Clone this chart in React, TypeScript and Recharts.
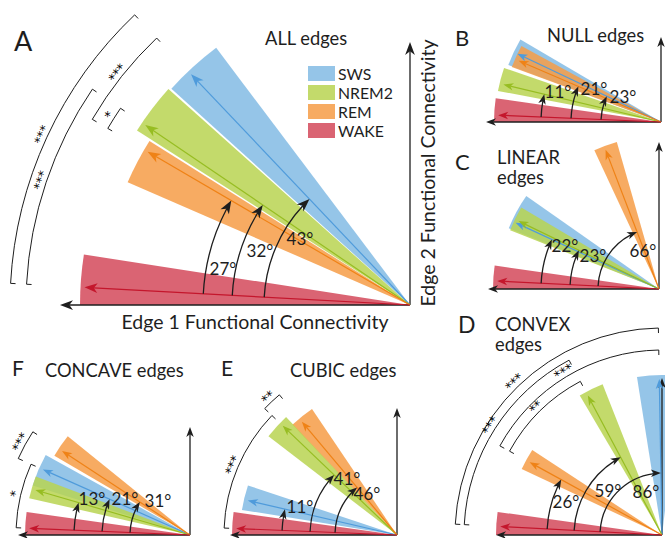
import React from 'react';
import { PieChart, Pie, Cell } from 'recharts';

const STAGES = ['SWS', 'NREM2', 'REM', 'WAKE'];

// angles are degrees above the Edge 1 axis, magnitude is relative arrow length
// A – ALL edges
const allMean = [46.5, 34.2, 30.3, 3.1];
const allLow = [42.2, 32.6, 23.5, 0];
const allHigh = [53, 41.8, 32.2, 8.8];
const allMag = [0.976, 0.982, 0.933, 1];
const allDelta = [43, 32, 27, null];
const allSig = [['WAKE', 'SWS', '***'], ['WAKE', 'NREM2', '***'], ['REM', 'SWS', '***'], ['REM', 'NREM2', '*']];

// B – NULL edges
const nullMean = [25.4, 13.4, 23.3, 2.4];
const nullLow = [20.5, 10.8, 20.2, 0];
const nullHigh = [30.4, 19, 28.6, 8.2];
const nullMag = [0.976, 0.994, 0.952, 1];
const nullDelta = [23, 11, 21, null];

// C – LINEAR edges
const linearMean = [24.8, 25.8, 69, 2.8];
const linearLow = [22, 21.5, 65, 0];
const linearHigh = [35, 30.6, 74, 8.1];
const linearMag = [0.976, 0.964, 0.922, 1];
const linearDelta = [22, 23, 66, null];

// D – CONVEX edges
const convexMean = [89, 62, 28.8, 3];
const convexLow = [81, 59.5, 25.2, 0];
const convexHigh = [97, 68.5, 33.2, 8];
const convexMag = [0.964, 0.976, 0.934, 1];
const convexDelta = [86, 59, 26, null];
const convexSig = [['WAKE', 'SWS', '***'], ['WAKE', 'NREM2', '***'], ['REM', 'SWS', '***'], ['REM', 'NREM2', '**']];

// E – CUBIC edges
const cubicMean = [13, 43.7, 50, 2.3];
const cubicLow = [9.2, 37.5, 46.5, 0];
const cubicHigh = [18.4, 46.8, 56, 8];
const cubicMag = [0.952, 0.982, 0.921, 1];
const cubicDelta = [11, 41, 46, null];
const cubicSig = [['NREM2', 'REM', '**'], ['WAKE', 'NREM2', '***']];

// F – CONCAVE edges
const concaveMean = [24, 16.2, 33.3, 2.4];
const concaveLow = [17.5, 12.9, 30.3, 0];
const concaveHigh = [29, 20.8, 38.9, 8];
const concaveMag = [1, 1, 0.952, 1];
const concaveDelta = [21, 13, 31, null];
const concaveSig = [['SWS', 'REM', '***'], ['WAKE', 'SWS', '*']];

const FILL: Record<string, string> = { SWS: '#82bbe4', NREM2: '#b9d451', REM: '#f69c47', WAKE: '#d4495b' };
const INK: Record<string, string> = { SWS: '#4f9bdb', NREM2: '#97bd22', REM: '#ef8216', WAKE: '#c4162c' };
const DRAW_ORDER = ['SWS', 'REM', 'NREM2', 'WAKE'];
const FONT = 'Lato, "Open Sans", sans-serif';
const DARK = '#1e1e1e';
const TS = 18.3; // panel title size

const PANELS = [
  {
    mean: allMean, low: allLow, high: allHigh, mag: allMag, delta: allDelta, sig: allSig,
    ox: 410, oy: 305, R: 330, xTip: 60, yTip: 42, head: 13, fs: 17,
    arcR: [146, 178, 207], labelXY: [[300, 245], [260, 257], [223, 275]], sigR: [400, 384, 368, 350],
    titles: [{ t: 'A', x: 14, y: 51, s: 27 }, { t: 'ALL edges', x: 265, y: 45, s: TS }],
  },
  {
    mean: nullMean, low: nullLow, high: nullHigh, mag: nullMag, delta: nullDelta, sig: [],
    ox: 661, oy: 122, R: 167, xTip: 486, yTip: 37, head: 10, fs: 17,
    arcR: [60, 120, 90], labelXY: [[623, 103], [558, 98], [594, 95]], sigR: [],
    titles: [{ t: 'B', x: 455, y: 46, s: 22 }, { t: 'NULL edges', x: 547, y: 42, s: TS }],
  },
  {
    mean: linearMean, low: linearLow, high: linearHigh, mag: linearMag, delta: linearDelta, sig: [],
    ox: 659, oy: 289, R: 166, xTip: 488, yTip: 142, head: 10, fs: 17,
    arcR: [118, 89, 61], labelXY: [[565, 252], [593, 262], [643, 257]], sigR: [],
    titles: [{ t: 'C', x: 455, y: 170, s: 22 }, { t: 'LINEAR', x: 497, y: 164, s: TS }, { t: 'edges', x: 497, y: 184, s: TS }],
  },
  {
    mean: convexMean, low: convexLow, high: convexHigh, mag: convexMag, delta: convexDelta, sig: convexSig,
    ox: 662, oy: 535, R: 166, xTip: 496, yTip: 378, head: 10, fs: 17,
    arcR: [62, 88, 115], labelXY: [[646, 498], [608, 497], [566, 508]], sigR: [207, 198, 185, 174],
    titles: [{ t: 'D', x: 458, y: 333, s: 23 }, { t: 'CONVEX', x: 495, y: 331, s: TS }, { t: 'edges', x: 495, y: 351, s: TS }],
  },
  {
    mean: cubicMean, low: cubicLow, high: cubicHigh, mag: cubicMag, delta: cubicDelta, sig: cubicSig,
    ox: 397, oy: 535, R: 165, xTip: 230, yTip: 408, head: 10, fs: 17,
    arcR: [115, 87, 62], labelXY: [[300, 513], [347, 485], [367, 500]], sigR: [183, 173],
    titles: [{ t: 'E', x: 221, y: 376, s: 21 }, { t: 'CUBIC edges', x: 290, y: 377, s: TS }],
  },
  {
    mean: concaveMean, low: concaveLow, high: concaveHigh, mag: concaveMag, delta: concaveDelta, sig: concaveSig,
    ox: 190, oy: 535, R: 165, xTip: 18, yTip: 427, head: 10, fs: 17,
    arcR: [88, 116, 60], labelXY: [[125, 505], [92, 505], [158, 507]], sigR: [188, 174],
    titles: [{ t: 'F', x: 12, y: 376, s: 21 }, { t: 'CONCAVE edges', x: 45, y: 377, s: TS }],
  },
];

type PanelT = typeof PANELS[number];

const rad = (d: number) => (d * Math.PI) / 180;

function headPts(tx: number, ty: number, ux: number, uy: number, L: number, W: number) {
  const nx = -uy, ny = ux;
  const bx = tx - ux * L, by = ty - uy * L;
  const mx = tx - ux * L * 0.72, my = ty - uy * L * 0.72;
  return `${tx},${ty} ${bx + (nx * W) / 2},${by + (ny * W) / 2} ${mx},${my} ${bx - (nx * W) / 2},${by - (ny * W) / 2}`;
}

function PanelMarks({ p }: { p: PanelT }) {
  const P = (r: number, a: number) => [p.ox - r * Math.cos(rad(a)), p.oy - r * Math.sin(rad(a))];
  const w = p.mean[3];
  const hw = p.head * 0.75;
  const out: React.ReactNode[] = [];

  // axes
  out.push(<line key="xa" x1={p.ox} y1={p.oy} x2={p.xTip + p.head * 0.7} y2={p.oy} stroke={DARK} strokeWidth={1.3} />);
  out.push(<polygon key="xh" points={headPts(p.xTip, p.oy, -1, 0, p.head, hw)} fill={DARK} />);
  out.push(<line key="ya" x1={p.ox} y1={p.oy} x2={p.ox} y2={p.yTip + p.head * 0.7} stroke={DARK} strokeWidth={1.3} />);
  out.push(<polygon key="yh" points={headPts(p.ox, p.yTip, 0, -1, p.head, hw)} fill={DARK} />);

  // stage arrows inside the wedges
  STAGES.forEach((st, i) => {
    const L = p.R * p.mag[i] - 4;
    const [tx, ty] = P(L, p.mean[i]);
    const ux = -Math.cos(rad(p.mean[i])), uy = -Math.sin(rad(p.mean[i]));
    const [ex, ey] = P(L - p.head * 0.7, p.mean[i]);
    out.push(<line key={`l${st}`} x1={p.ox} y1={p.oy} x2={ex} y2={ey} stroke={INK[st]} strokeWidth={1.2} />);
    out.push(<polygon key={`h${st}`} points={headPts(tx, ty, ux, uy, p.head, hw)} fill={INK[st]} />);
  });

  // angle difference arcs
  p.delta.forEach((d, i) => {
    if (d == null) return;
    const r = p.arcR[i];
    const a1 = p.mean[i];
    const [sx, sy] = P(r, w);
    const aEnd = a1 - ((p.head * 0.7) / r) * (180 / Math.PI);
    const [ex, ey] = P(r, aEnd);
    const [tx, ty] = P(r, a1);
    const ux = Math.sin(rad(a1)), uy = -Math.cos(rad(a1));
    out.push(<path key={`a${i}`} d={`M${sx},${sy} A${r},${r} 0 0 1 ${ex},${ey}`} fill="none" stroke={DARK} strokeWidth={1.3} />);
    out.push(<polygon key={`ah${i}`} points={headPts(tx, ty, ux, uy, p.head, hw)} fill={DARK} />);
    out.push(
      <text key={`at${i}`} x={p.labelXY[i][0]} y={p.labelXY[i][1]} textAnchor="middle" fontSize={p.fs} fill={DARK}>
        {`${d}°`}
      </text>,
    );
  });

  // significance brackets
  p.sig.forEach(([s1, s2, stars], k) => {
    const r = p.sigR[k];
    const a0 = Math.min(p.mean[STAGES.indexOf(s1)], p.mean[STAGES.indexOf(s2)]);
    const a1 = Math.max(p.mean[STAGES.indexOf(s1)], p.mean[STAGES.indexOf(s2)]);
    const [x0, y0] = P(r - 5, a0);
    const [x1, y1] = P(r, a0);
    const [x2, y2] = P(r, a1);
    const [x3, y3] = P(r - 5, a1);
    out.push(
      <path key={`s${k}`} d={`M${x0},${y0} L${x1},${y1} A${r},${r} 0 0 1 ${x2},${y2} L${x3},${y3}`} fill="none" stroke={DARK} strokeWidth={1} />,
    );
    const am = (a0 + a1) / 2;
    const [tx, ty] = P(r + 1, am);
    out.push(
      <text
        key={`st${k}`}
        x={tx}
        y={ty}
        textAnchor="middle"
        fontSize={13}
        fontFamily='"DejaVu Sans", sans-serif'
        fill="#000"
        transform={`rotate(${am - 90} ${tx} ${ty})`}
      >
        {stars}
      </text>,
    );
  });

  p.titles.forEach((t, k) => {
    out.push(
      <text key={`t${k}`} x={t.x} y={t.y} fontSize={t.s} fill={DARK}>
        {t.t}
      </text>,
    );
  });

  return <g>{out}</g>;
}

const Overlay = () => (
  <g fontFamily={FONT}>
    {PANELS.map((p, pi) => (
      <PanelMarks key={pi} p={p} />
    ))}
    <text x={255} y={329} textAnchor="middle" fontSize={19.5} fill={DARK}>
      Edge 1 Functional Connectivity
    </text>
    <text x={435} y={173} textAnchor="middle" fontSize={19.5} fill={DARK} transform="rotate(-90 435 173)">
      Edge 2 Functional Connectivity
    </text>
    {STAGES.map((st, i) => (
      <g key={st}>
        <rect x={308} y={66 + i * 19} width={27} height={15} fill={FILL[st]} fillOpacity={0.85} />
        <text x={338} y={80 + i * 19} fontSize={15.8} fill={DARK}>
          {st}
        </text>
      </g>
    ))}
  </g>
);

export default function App() {
  return (
    <div style={{ position: 'absolute', left: 0, top: 0, width: 665, height: 538, background: '#fff' }}>
      <PieChart width={665} height={538} margin={{ top: 0, right: 0, bottom: 0, left: 0 }}>
        {PANELS.flatMap((p, pi) =>
          DRAW_ORDER.map((st) => {
            const i = STAGES.indexOf(st);
            return (
              <Pie
                key={`${pi}-${st}`}
                data={[{ name: st, value: 1 }]}
                dataKey="value"
                cx={p.ox}
                cy={p.oy}
                startAngle={180 - p.high[i]}
                endAngle={180 - p.low[i]}
                innerRadius={0}
                outerRadius={p.R * p.mag[i]}
                stroke="none"
                isAnimationActive={false}
                legendType="none"
              >
                <Cell fill={FILL[st]} fillOpacity={0.85} />
              </Pie>
            );
          }),
        )}
      </PieChart>
      <svg width={665} height={538} style={{ position: 'absolute', left: 0, top: 0, pointerEvents: 'none' }}>
        <Overlay />
      </svg>
    </div>
  );
}
